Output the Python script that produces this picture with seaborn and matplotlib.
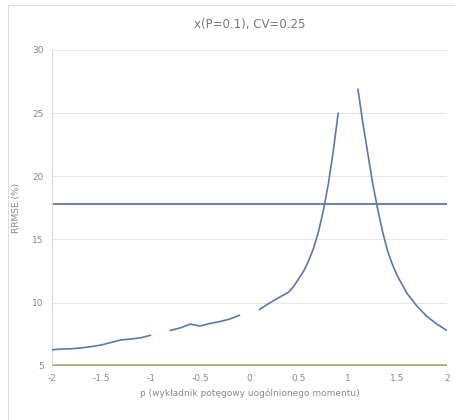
import matplotlib
matplotlib.use("Agg")
import matplotlib.pyplot as plt
import numpy as np
import pandas as pd
import seaborn as sns
from matplotlib.patches import Rectangle

# curve segments (gaps where the estimator is undefined)
p_seg1 = [-2.0, -1.9, -1.8, -1.7, -1.6, -1.5, -1.4, -1.3, -1.2, -1.1, -1.0]
rrmse_seg1 = [6.27, 6.33, 6.35, 6.42, 6.52, 6.65, 6.85, 7.05, 7.12, 7.22, 7.42]
p_seg2 = [-0.8, -0.7, -0.6, -0.5, -0.4, -0.3, -0.2, -0.1]
rrmse_seg2 = [7.8, 8.0, 8.3, 8.15, 8.35, 8.5, 8.7, 9.0]
p_seg3 = [0.1, 0.2, 0.3, 0.4, 0.45, 0.5, 0.55, 0.6, 0.65, 0.7, 0.75, 0.8, 0.85, 0.9]
rrmse_seg3 = [9.45, 9.95, 10.4, 10.85, 11.3, 11.9, 12.5, 13.3, 14.3, 15.6, 17.3, 19.4, 22.0, 25.0]
p_seg4 = [1.1, 1.15, 1.2, 1.25, 1.3, 1.35, 1.4, 1.45, 1.5, 1.6, 1.7, 1.8, 1.9, 2.0]
rrmse_seg4 = [26.9, 24.2, 21.8, 19.4, 17.4, 15.6, 14.1, 13.0, 12.1, 10.7, 9.7, 8.9, 8.3, 7.8]

ref_blue = 17.8
ref_green = 5.1

x_ticks = [-2, -1.5, -1, -0.5, 0, 0.5, 1, 1.5, 2]
x_tick_labels = ["-2", "-1.5", "-1", "-0.5", "0", "0.5", "1", "1.5", "2"]
y_ticks = [5, 10, 15, 20, 25, 30]

frames = []
for i, (px, py) in enumerate([(p_seg1, rrmse_seg1), (p_seg2, rrmse_seg2),
                              (p_seg3, rrmse_seg3), (p_seg4, rrmse_seg4)]):
    frames.append(pd.DataFrame({"p": px, "rrmse": py, "seg": i}))
df = pd.concat(frames, ignore_index=True)

sns.set_style("white")
plt.rcParams["font.family"] = ["DejaVu Sans"]

fig = plt.figure(figsize=(4.55, 4.2), dpi=100)
ax = fig.add_axes([0.114, 0.129, 0.868, 0.752])

ax.grid(axis="y", color="#e6e6e6", linewidth=0.8)
ax.axhline(ref_blue, color="#6a7fa8", linewidth=1.4, zorder=2)
ax.axhline(ref_green, color="#a3ab6a", linewidth=1.8, zorder=2)

sns.lineplot(data=df, x="p", y="rrmse", units="seg", estimator=None,
             color="#5a78ad", linewidth=1.2, ax=ax, legend=False, zorder=3)

ax.set_xlim(-2, 2)
ax.set_ylim(5, 30)
ax.set_xticks(x_ticks)
ax.set_xticklabels(x_tick_labels)
ax.set_yticks(y_ticks)
ax.tick_params(axis="both", labelsize=6.5, colors="#888888", length=0, pad=6)

for s in ["top", "right", "bottom"]:
    ax.spines[s].set_visible(False)
ax.spines["left"].set_color("#d9d9d9")
ax.spines["left"].set_linewidth(0.8)

ax.set_title("x(P=0.1), CV=0.25", fontsize=8.5, color="#777777", pad=16)
ax.set_xlabel("p (wykładnik potęgowy uogólnionego momentu)", fontsize=6.5,
              color="#888888", labelpad=4)
ax.set_ylabel("RRMSE (%)", fontsize=6.5, color="#888888", labelpad=8)

fig.patches.append(Rectangle((0.018, -0.02), 1.0, 1.008, transform=fig.transFigure,
                             fill=False, edgecolor="#dddddd", linewidth=0.8))

fig.savefig("out.png", dpi=100)
